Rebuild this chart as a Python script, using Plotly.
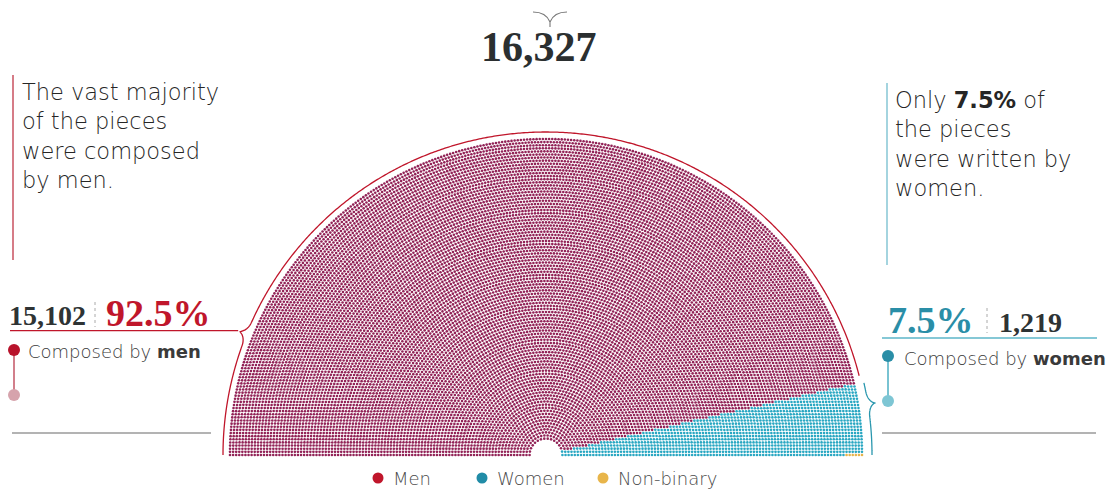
import numpy as np
import plotly.graph_objects as go

# ---------------- data ----------------
categories = ["Men", "Women", "Non-binary"]
counts = [15102, 1219, 6]
total_pieces = 16327
share_men = 92.5
share_women = 7.5
dot_colors = ["#922357", "#29a7c2", "#e6b34a"]
legend_colors = ["#c0162b", "#218ca7", "#e8b54a"]

# ---------------- canvas / scale ----------------
W, H = 1107, 490
CX, CY, S = 546, 455, 316.0   # centre of the half-circle (px) and px per unit


def X(p):
    return (p - CX) / S


def Y(p):
    return (CY - p) / S


# ---------------- parliament layout ----------------
N = sum(counts)
n_rows = 98
r0 = 0.052
radii = np.linspace(r0, 1.0, n_rows)
raw = N * radii / radii.sum()
seats = np.floor(raw).astype(int)
rem = N - seats.sum()
order = np.argsort(-(raw - seats))
seats[order[:rem]] += 1

ang_all, rad_all = [], []
for r, s in zip(radii, seats):
    a = np.linspace(np.pi, 0, s) if s > 1 else np.array([np.pi / 2])
    ang_all.append(a)
    rad_all.append(np.full(s, r))
ang_all = np.concatenate(ang_all)
rad_all = np.concatenate(rad_all)
idx = np.lexsort((rad_all, -ang_all))
ang_all = ang_all[idx]
rad_all = rad_all[idx]
xs = rad_all * np.cos(ang_all)
ys = rad_all * np.sin(ang_all)

fig = go.Figure()
start = 0
for cat, cnt, col in zip(categories, counts, dot_colors):
    fig.add_trace(go.Scatter(
        x=xs[start:start + cnt], y=ys[start:start + cnt], mode="markers",
        name=cat, hoverinfo="skip",
        marker=dict(size=2.6, color=col, symbol="circle", line=dict(width=0)),
    ))
    start += cnt

shapes = []
annotations = []


def brace_path(r_px, a_start, a_end, a_tip, h_px, w_deg):
    pts = []
    for a in np.linspace(a_start, a_end, 500):
        t = abs(a - a_tip) / w_deg
        bump = 0.0
        if t < 1:
            bump = h_px * (1 - np.sqrt(1 - (1 - t) ** 2))
        rr = (r_px + bump) / S
        pts.append((rr * np.cos(np.radians(a)), rr * np.sin(np.radians(a))))
    return "M " + " L ".join(f"{x:.5f},{y:.5f}" for x, y in pts)


# red brace around men sector
shapes.append(dict(type="path", path=brace_path(323, 180, 14.2, 158, 9, 2.2),
                   line=dict(color="#c0162b", width=1.3), layer="above"))
# blue brace around women sector
shapes.append(dict(type="path", path=brace_path(326, 12.8, 0, 9, 8, 2.2),
                   line=dict(color="#2a97ae", width=1.3), layer="above"))

# tip of red brace -> horizontal line
tip_a = np.radians(158)
tip_r = (323 + 9) / S
tipx, tipy = tip_r * np.cos(tip_a), tip_r * np.sin(tip_a)
shapes.append(dict(type="line", x0=X(10), x1=tipx, y0=tipy, y1=tipy,
                   line=dict(color="#c0162b", width=1.3)))
# blue underline
shapes.append(dict(type="line", x0=X(882), x1=X(1097), y0=Y(338), y1=Y(338),
                   line=dict(color="#5db6c8", width=1.3)))

# top brace
shapes.append(dict(type="path",
                   path=f"M {X(533)},{Y(12)} Q {X(546)},{Y(12)} {X(550)},{Y(22)} "
                        f"Q {X(554)},{Y(12)} {X(567)},{Y(12)} M {X(550)},{Y(22)} L {X(550)},{Y(27)}",
                   line=dict(color="#777777", width=1.1)))

# vertical lines by paragraphs
shapes.append(dict(type="line", x0=X(13), x1=X(13), y0=Y(75), y1=Y(260),
                   line=dict(color="#c9505f", width=1.5)))
shapes.append(dict(type="line", x0=X(887), x1=X(887), y0=Y(83), y1=Y(265),
                   line=dict(color="#86c6d4", width=1.5)))

# dotted separators
shapes.append(dict(type="line", x0=X(95), x1=X(95), y0=Y(302), y1=Y(327),
                   line=dict(color="#aaaaaa", width=1, dash="dot")))
shapes.append(dict(type="line", x0=X(987), x1=X(987), y0=Y(308), y1=Y(333),
                   line=dict(color="#aaaaaa", width=1, dash="dot")))

# grey baselines
shapes.append(dict(type="line", x0=X(12), x1=X(211), y0=Y(433), y1=Y(433),
                   line=dict(color="#9a9a9a", width=1.3)))
shapes.append(dict(type="line", x0=X(882), x1=X(1096), y0=Y(433), y1=Y(433),
                   line=dict(color="#9a9a9a", width=1.3)))

# lollipop markers next to "Composed by"
shapes.append(dict(type="line", x0=X(14), x1=X(14), y0=Y(350), y1=Y(395),
                   line=dict(color="#d27f8b", width=2)))
shapes.append(dict(type="line", x0=X(888), x1=X(888), y0=Y(356), y1=Y(401),
                   line=dict(color="#79c3d2", width=2)))


def dot(px, py, r, color):
    return dict(type="circle", xref="x", yref="y", xsizemode="pixel", ysizemode="pixel",
                xanchor=X(px), yanchor=Y(py), x0=-r, x1=r, y0=-r, y1=r,
                fillcolor=color, line=dict(width=0), layer="above")


shapes += [dot(14, 350, 6, "#b8132b"), dot(14, 395, 6, "#d6a3ac"),
           dot(888, 356, 6, "#2a8ea7"), dot(888, 401, 6, "#7ec6d4")]

SANS = "DejaVu Sans"
SERIF = "Liberation Serif"


def txt(px, py, text, size, color, family=SANS, weight=None, xanchor="left",
        yanchor="middle"):
    f = dict(family=family, size=size, color=color)
    if weight:
        f["weight"] = weight
    annotations.append(dict(x=X(px), y=Y(py), xref="x", yref="y", text=text,
                            showarrow=False, xanchor=xanchor, yanchor=yanchor,
                            align="left", font=f))


# total
txt(539, 47, f"<b>{total_pieces:,}</b>", 42, "#2b2f30", SERIF, xanchor="center")

# paragraphs
left_lines = ["The vast majority", "of the pieces", "were composed", "by men."]
txt(20, 136, "<br>".join(left_lines), 22.5, "#262626", SANS, 200)
right_lines = ["Only <b>7.5%</b> of", "the pieces", "were written by", "women."]
txt(893, 144, "<br>".join(right_lines), 22.5, "#262626", SANS, 200)

# big numbers
txt(7, 315, f"<b>{counts[0]:,}</b>", 28, "#2e3334", SERIF)
txt(104, 313, f"<b>{share_men}%</b>", 38, "#c0162b", SERIF)
txt(886, 320, f"<b>{share_women}%</b>", 38, "#2a8ea7", SERIF)
txt(997, 322, f"<b>{counts[1]:,}</b>", 28, "#2e3334", SERIF)

txt(26, 351, "Composed by <b>men</b>", 18, "#3a3a3a", SANS, 200)
txt(902, 358, "Composed by <b>women</b>", 18, "#3a3a3a", SANS, 200)

# custom legend
leg_x = [378, 482, 603]
for lx, cat, col in zip(leg_x, categories, legend_colors):
    shapes.append(dot(lx, 478, 5.5, col))
    txt(lx + 13, 478, cat, 18, "#4a4a4a", SANS, 200)

fig.update_layout(
    width=W, height=H, autosize=False,
    margin=dict(l=0, r=0, t=0, b=0),
    paper_bgcolor="white", plot_bgcolor="white",
    showlegend=False,
    xaxis=dict(range=[X(0), X(W)], visible=False, fixedrange=True),
    yaxis=dict(range=[Y(H), Y(0)], visible=False, fixedrange=True),
    shapes=shapes, annotations=annotations,
)

fig.write_html("out.html", config={"displayModeBar": False},
               post_script="document.body.style.margin='0';document.body.style.overflow='hidden';")
